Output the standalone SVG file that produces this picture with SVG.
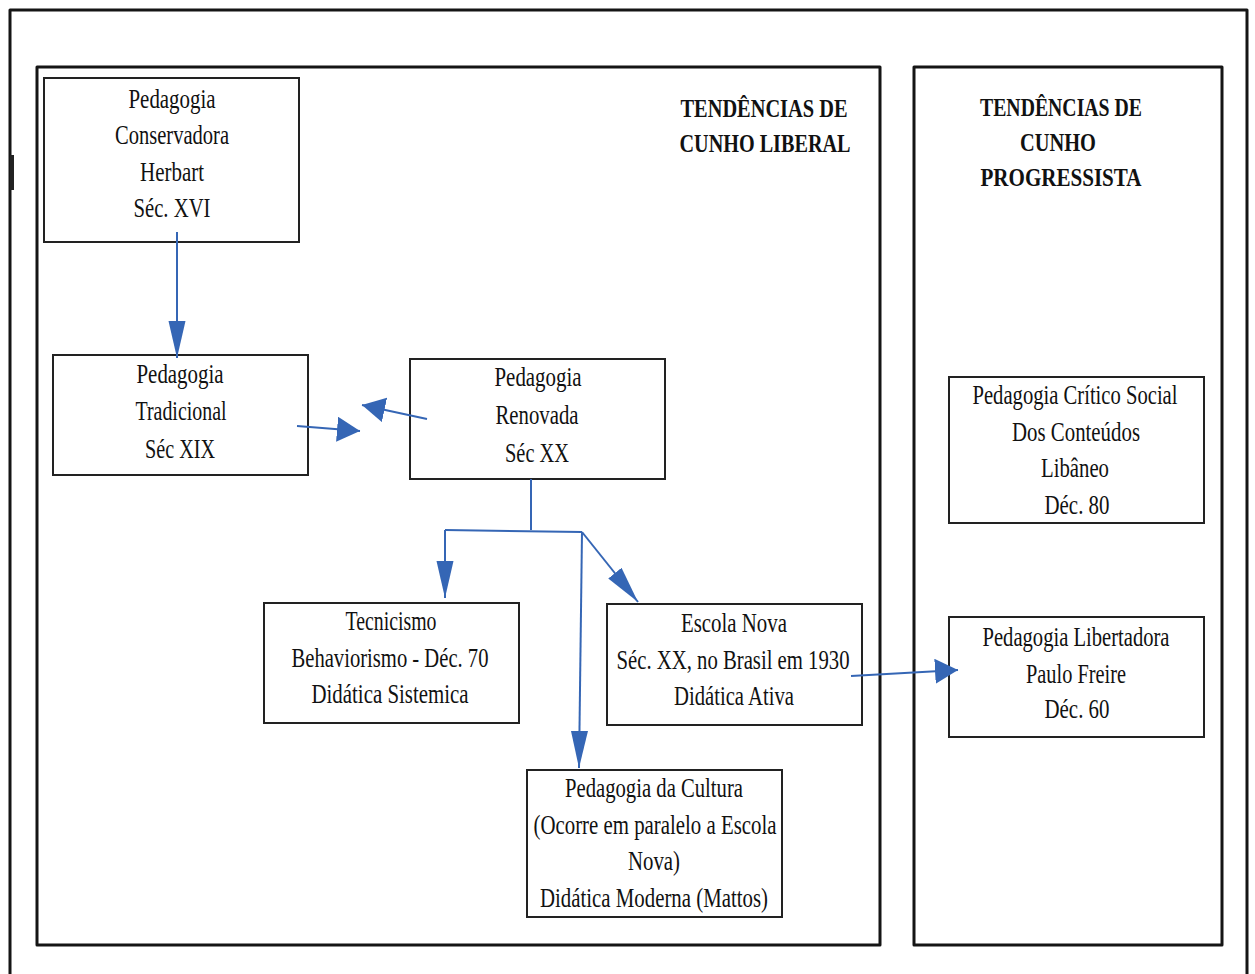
<svg xmlns="http://www.w3.org/2000/svg" width="1255" height="974" viewBox="0 0 1255 974">
<style>
.panel{fill:none;stroke:#151515;stroke-width:3;stroke-linejoin:round}
.box{fill:#fff;stroke:#222;stroke-width:2}
.t{font-family:"Liberation Serif","DejaVu Serif",serif;font-size:28px;fill:#111;text-anchor:middle}
.h{font-family:"Liberation Serif","DejaVu Serif",serif;font-size:26px;font-weight:bold;fill:#111;text-anchor:middle}
.c{fill:none;stroke:#3566b5;stroke-width:2}
</style>
<defs>
<marker id="aL" markerUnits="userSpaceOnUse" markerWidth="38" markerHeight="18" refX="37" refY="8.5" orient="auto"><path d="M0,0 L37,8.5 L0,17 z" fill="#3566b5"/></marker>
<marker id="aS" markerUnits="userSpaceOnUse" markerWidth="24" markerHeight="26" refX="23" refY="12.5" orient="auto"><path d="M0,0 L23,12.5 L0,25 z" fill="#3566b5"/></marker>
</defs>
<rect width="1255" height="974" fill="#fff"/>
<g id="frame">
<path class="panel" d="M10,974 L10,10 L1247,10 L1247,974"/>
<rect x="10" y="155" width="4" height="35" fill="#222"/>
</g>
<g id="panel-liberal">
<rect class="panel" x="37" y="67" width="843" height="878"/>
<text class="h" x="764" y="117" textLength="167" lengthAdjust="spacingAndGlyphs">TENDÊNCIAS DE</text>
<text class="h" x="765" y="152" textLength="171" lengthAdjust="spacingAndGlyphs">CUNHO LIBERAL</text>
</g>
<g id="panel-progressista">
<rect class="panel" x="914" y="67" width="308" height="878"/>
<text class="h" x="1061" y="116" textLength="162" lengthAdjust="spacingAndGlyphs">TENDÊNCIAS DE</text>
<text class="h" x="1058" y="151" textLength="76" lengthAdjust="spacingAndGlyphs">CUNHO</text>
<text class="h" x="1061" y="186" textLength="161" lengthAdjust="spacingAndGlyphs">PROGRESSISTA</text>
</g>
<g id="n-conservadora">
<rect class="box" x="44" y="78" width="255" height="164"/>
<text class="t" x="172" y="108" textLength="87" lengthAdjust="spacingAndGlyphs">Pedagogia</text>
<text class="t" x="172" y="144" textLength="114" lengthAdjust="spacingAndGlyphs">Conservadora</text>
<text class="t" x="172" y="181" textLength="64" lengthAdjust="spacingAndGlyphs">Herbart</text>
<text class="t" x="172" y="217" textLength="77" lengthAdjust="spacingAndGlyphs">Séc. XVI</text>
</g>
<g id="n-tradicional">
<rect class="box" x="53" y="355" width="255" height="120"/>
<text class="t" x="180" y="383" textLength="87" lengthAdjust="spacingAndGlyphs">Pedagogia</text>
<text class="t" x="181" y="420" textLength="91" lengthAdjust="spacingAndGlyphs">Tradicional</text>
<text class="t" x="180" y="458" textLength="70" lengthAdjust="spacingAndGlyphs">Séc XIX</text>
</g>
<g id="n-renovada">
<rect class="box" x="410" y="359" width="255" height="120"/>
<text class="t" x="538" y="386" textLength="87" lengthAdjust="spacingAndGlyphs">Pedagogia</text>
<text class="t" x="537" y="424" textLength="83" lengthAdjust="spacingAndGlyphs">Renovada</text>
<text class="t" x="537" y="462" textLength="64" lengthAdjust="spacingAndGlyphs">Séc XX</text>
</g>
<g id="n-tecnicismo">
<rect class="box" x="264" y="603" width="255" height="120"/>
<text class="t" x="391" y="630" textLength="91" lengthAdjust="spacingAndGlyphs">Tecnicismo</text>
<text class="t" x="390" y="667" textLength="197" lengthAdjust="spacingAndGlyphs">Behaviorismo - Déc. 70</text>
<text class="t" x="390" y="703" textLength="157" lengthAdjust="spacingAndGlyphs">Didática Sistemica</text>
</g>
<g id="n-escola-nova">
<rect class="box" x="607" y="604" width="255" height="121"/>
<text class="t" x="734" y="632" textLength="106" lengthAdjust="spacingAndGlyphs">Escola Nova</text>
<text class="t" x="733" y="669" textLength="233" lengthAdjust="spacingAndGlyphs">Séc. XX, no Brasil em 1930</text>
<text class="t" x="734" y="705" textLength="120" lengthAdjust="spacingAndGlyphs">Didática Ativa</text>
</g>
<g id="n-cultura">
<rect class="box" x="527" y="770" width="255" height="147"/>
<text class="t" x="654" y="797" textLength="178" lengthAdjust="spacingAndGlyphs">Pedagogia da Cultura</text>
<text class="t" x="655" y="834" textLength="243" lengthAdjust="spacingAndGlyphs">(Ocorre em paralelo a Escola</text>
<text class="t" x="654" y="870" textLength="52" lengthAdjust="spacingAndGlyphs">Nova)</text>
<text class="t" x="654" y="907" textLength="228" lengthAdjust="spacingAndGlyphs">Didática Moderna (Mattos)</text>
</g>
<g id="n-critico-social">
<rect class="box" x="949" y="377" width="255" height="146"/>
<text class="t" x="1075" y="404" textLength="205" lengthAdjust="spacingAndGlyphs">Pedagogia Crítico Social</text>
<text class="t" x="1076" y="441" textLength="128" lengthAdjust="spacingAndGlyphs">Dos Conteúdos</text>
<text class="t" x="1075" y="477" textLength="68" lengthAdjust="spacingAndGlyphs">Libâneo</text>
<text class="t" x="1077" y="514" textLength="65" lengthAdjust="spacingAndGlyphs">Déc. 80</text>
</g>
<g id="n-libertadora">
<rect class="box" x="949" y="617" width="255" height="120"/>
<text class="t" x="1076" y="646" textLength="187" lengthAdjust="spacingAndGlyphs">Pedagogia Libertadora</text>
<text class="t" x="1076" y="683" textLength="100" lengthAdjust="spacingAndGlyphs">Paulo Freire</text>
<text class="t" x="1077" y="718" textLength="65" lengthAdjust="spacingAndGlyphs">Déc. 60</text>
</g>
<g id="connectors">
<path class="c" d="M177,232 L177,358" stroke-width="3" marker-end="url(#aL)"/>
<path class="c" d="M297,426 L360,431" marker-end="url(#aS)"/>
<path class="c" d="M427,419 L362,405" marker-end="url(#aS)"/>
<path class="c" d="M531,479 L531,530 M445,530 L582,532"/>
<path class="c" d="M445,530 L445,598" marker-end="url(#aL)"/>
<path class="c" d="M582,532 L579,768" marker-end="url(#aL)"/>
<path class="c" d="M582,532 L638,602" marker-end="url(#aL)"/>
<path class="c" d="M851,676 L958,670" marker-end="url(#aS)"/>
</g>
</svg>
